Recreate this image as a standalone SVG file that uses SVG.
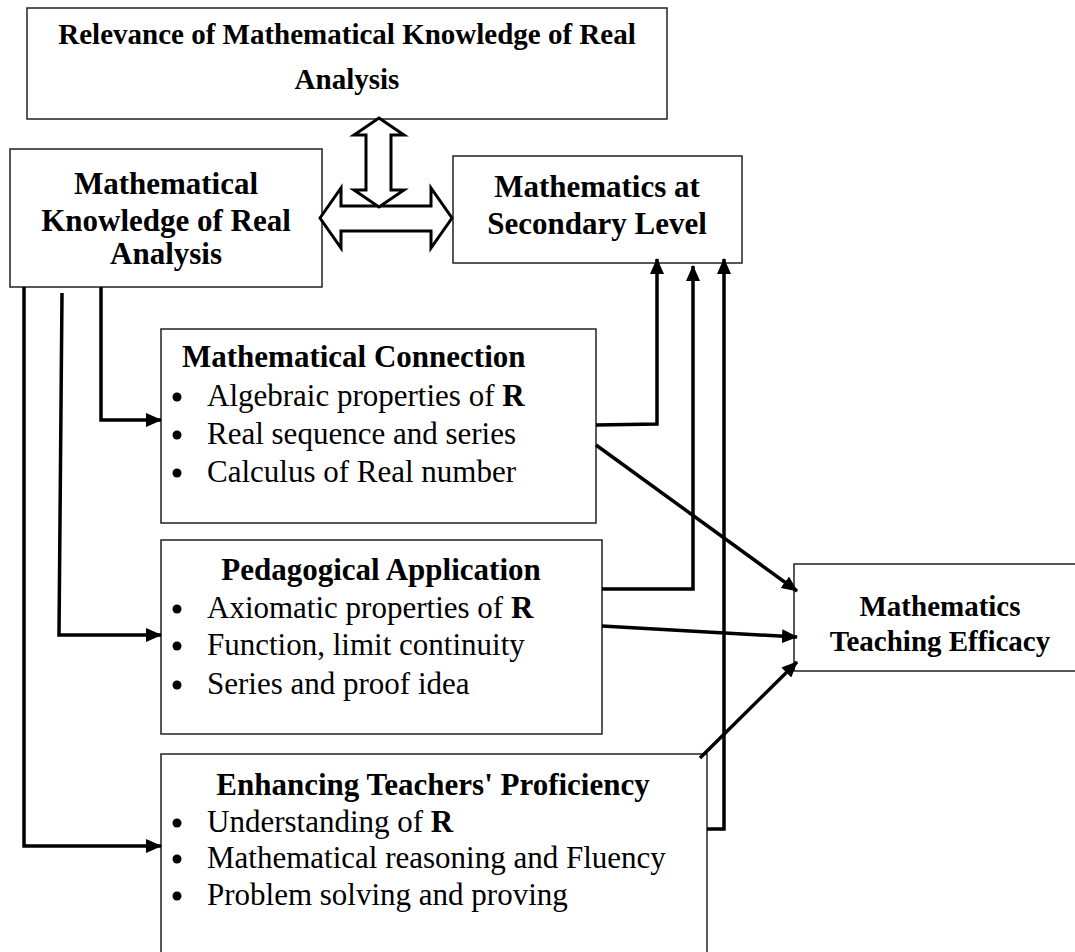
<svg xmlns="http://www.w3.org/2000/svg" width="1075" height="952" viewBox="0 0 1075 952">
  <style>
    .box { fill: #ffffff; stroke: #222222; stroke-width: 1.5; }
    .hd { font-family: "Liberation Serif", "Times New Roman", serif; font-weight: bold; fill: #000000; }
    .tx { font-family: "Liberation Serif", "Times New Roman", serif; font-size: 31px; fill: #000000; }
    .dot { fill: #000000; }
    .b { font-weight: bold; }
    .wire { fill: none; stroke: #000000; stroke-width: 3.5; stroke-linejoin: miter; }
    .dbl { fill: #ffffff; stroke: #000000; stroke-width: 3; stroke-linejoin: miter; }
  </style>
  <defs>
    <marker id="head" viewBox="0 0 16 14" refX="15" refY="7" markerWidth="16" markerHeight="14" markerUnits="userSpaceOnUse" orient="auto">
      <path d="M0,0 L16,7 L0,14 z" fill="#000000"/>
    </marker>
  </defs>

  <rect width="1075" height="952" fill="#ffffff"/>

  <!-- top heading box -->
  <g id="relevance">
    <rect class="box" x="27" y="8" width="640" height="111"/>
    <text class="hd" font-size="29" x="347" y="44" text-anchor="middle">Relevance of Mathematical Knowledge of Real</text>
    <text class="hd" font-size="29" x="347" y="89" text-anchor="middle">Analysis</text>
  </g>

  <!-- knowledge of real analysis -->
  <g id="knowledge">
    <rect class="box" x="10" y="149" width="312" height="138"/>
    <text class="hd" font-size="31" x="166" y="194" text-anchor="middle">Mathematical</text>
    <text class="hd" font-size="31" x="166" y="231" text-anchor="middle">Knowledge of Real</text>
    <text class="hd" font-size="31" x="166" y="264" text-anchor="middle">Analysis</text>
  </g>

  <!-- secondary level mathematics -->
  <g id="secondary">
    <rect class="box" x="453" y="156" width="289" height="107"/>
    <text class="hd" font-size="31" x="597" y="197" text-anchor="middle">Mathematics at</text>
    <text class="hd" font-size="31" x="597" y="234" text-anchor="middle">Secondary Level</text>
  </g>

  <!-- two-way block arrows -->
  <g id="exchange">
    <polygon class="dbl" points="320,218 341,188 341,206 431,206 431,188 452,218 431,248 431,231 341,231 341,248"/>
    <polygon class="dbl" points="379,118 404,135 391,135 391,190 404,190 379,207 354,190 366,190 366,135 354,135"/>
  </g>

  <!-- mathematical connection -->
  <g id="connection">
    <rect class="box" x="161" y="329" width="435" height="194"/>
    <text class="hd" font-size="31" x="182" y="367">Mathematical Connection</text>
    <circle class="dot" cx="177" cy="397" r="4.5"/>
    <text class="tx" x="207" y="406">Algebraic properties of <tspan class="b">R</tspan></text>
    <circle class="dot" cx="177" cy="435" r="4.5"/>
    <text class="tx" x="207" y="444">Real sequence and series</text>
    <circle class="dot" cx="177" cy="473" r="4.5"/>
    <text class="tx" x="207" y="482">Calculus of Real number</text>
  </g>

  <!-- pedagogical application -->
  <g id="pedagogy">
    <rect class="box" x="161" y="540" width="441" height="194"/>
    <text class="hd" font-size="31" x="381" y="580" text-anchor="middle">Pedagogical Application</text>
    <circle class="dot" cx="177" cy="609" r="4.5"/>
    <text class="tx" x="207" y="618">Axiomatic properties of <tspan class="b">R</tspan></text>
    <circle class="dot" cx="177" cy="646" r="4.5"/>
    <text class="tx" x="207" y="655">Function, limit continuity</text>
    <circle class="dot" cx="177" cy="685" r="4.5"/>
    <text class="tx" x="207" y="694">Series and proof idea</text>
  </g>

  <!-- teachers' proficiency -->
  <g id="proficiency">
    <rect class="box" x="161" y="754" width="546" height="210"/>
    <text class="hd" font-size="31" x="433" y="795" text-anchor="middle">Enhancing Teachers' Proficiency</text>
    <circle class="dot" cx="177" cy="823" r="4.5"/>
    <text class="tx" x="207" y="832">Understanding of <tspan class="b">R</tspan></text>
    <circle class="dot" cx="177" cy="859" r="4.5"/>
    <text class="tx" x="207" y="868">Mathematical reasoning and Fluency</text>
    <circle class="dot" cx="177" cy="896" r="4.5"/>
    <text class="tx" x="207" y="905">Problem solving and proving</text>
  </g>

  <!-- teaching efficacy -->
  <g id="efficacy">
    <rect class="box" x="794" y="564" width="300" height="107"/>
    <text class="hd" font-size="29" x="940" y="616" text-anchor="middle">Mathematics</text>
    <text class="hd" font-size="29" x="940" y="651" text-anchor="middle">Teaching Efficacy</text>
  </g>

  <!-- connectors -->
  <g id="connectors">
    <polyline class="wire" points="24,287 24,846 161,846" marker-end="url(#head)"/>
    <polyline class="wire" points="62,293 59,635 161,635" marker-end="url(#head)"/>
    <polyline class="wire" points="101,287 101,420 161,420" marker-end="url(#head)"/>
    <polyline class="wire" points="596,425 657,424 657,259" marker-end="url(#head)"/>
    <line class="wire" x1="596" y1="445" x2="797" y2="591" marker-end="url(#head)"/>
    <polyline class="wire" points="602,589 693,589 693,266" marker-end="url(#head)"/>
    <line class="wire" x1="602" y1="626" x2="797" y2="637" marker-end="url(#head)"/>
    <polyline class="wire" points="707,829 724,829 724,259" marker-end="url(#head)"/>
    <line class="wire" x1="700" y1="758" x2="797" y2="662" marker-end="url(#head)"/>
  </g>
</svg>
